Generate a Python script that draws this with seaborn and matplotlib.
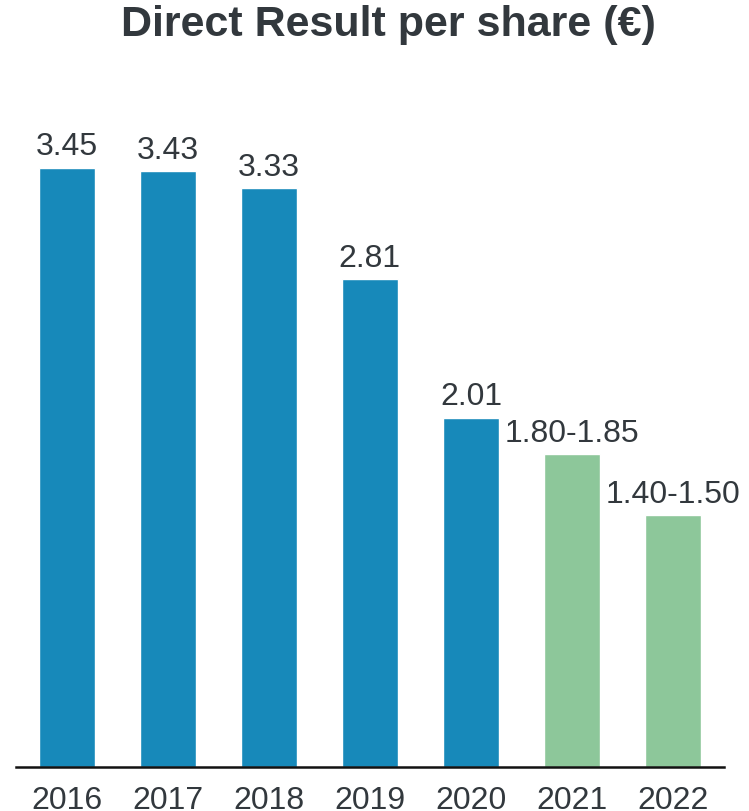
import matplotlib
matplotlib.use("Agg")
import matplotlib.pyplot as plt
import seaborn as sns
import pandas as pd

# Direct result per share in euros; 2021 and 2022 are outlook ranges
years = ["2016", "2017", "2018", "2019", "2020", "2021", "2022"]
values = [3.45, 3.43, 3.33, 2.81, 2.01, 1.80, 1.45]
labels = ["3.45", "3.43", "3.33", "2.81", "2.01", "1.80-1.85", "1.40-1.50"]
kind = ["actual", "actual", "actual", "actual", "actual", "outlook", "outlook"]

BLUE = "#1789ba"
GREEN = "#8dc79a"
TEXT = "#32383d"

df = pd.DataFrame({"year": years, "value": values, "label": labels, "kind": kind})

sns.set_theme(style="white")
plt.rcParams["font.family"] = ["Liberation Sans", "DejaVu Sans"]

fig = plt.figure(figsize=(7.49, 8.12), dpi=100)
ax = fig.add_axes([0.0214, 0.0546, 0.945, 0.834])

sns.barplot(data=df, x="year", y="value", hue="kind",
            palette={"actual": BLUE, "outlook": GREEN},
            dodge=False, width=0.554, legend=False, ax=ax,
            saturation=1)

for i, (v, lab) in enumerate(zip(values, labels)):
    ax.annotate(lab, xy=(i, v), xytext=(0, 9.5), textcoords="offset points",
                ha="center", va="baseline", fontsize=23, color=TEXT)

ax.set_xlim(-0.5, 6.5)
ax.set_ylim(0, 3.9)
ax.set_xlabel("")
ax.set_ylabel("")
ax.set_yticks([])
for side in ["left", "right", "top"]:
    ax.spines[side].set_visible(False)
ax.spines["bottom"].set_color("#111111")
ax.spines["bottom"].set_linewidth(1.8)
ax.tick_params(axis="x", length=0, pad=13, labelsize=23, labelcolor=TEXT)

fig.text(0.518, 1 - 36 / 812, "Direct Result per share (€)", ha="center",
         va="baseline", fontsize=31, fontweight="bold", color=TEXT)

fig.savefig("out.png", dpi=100)
